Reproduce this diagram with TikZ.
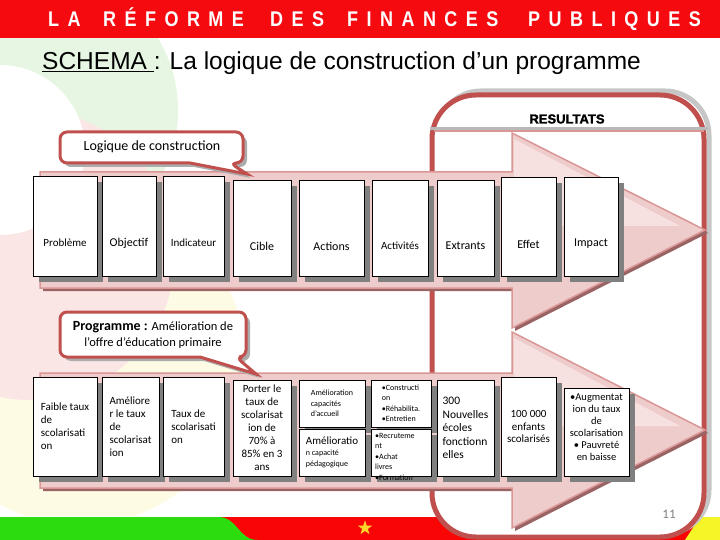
\documentclass[tikz,border=0pt]{standalone}
\usepackage{fontspec}
\usepackage{graphicx}
\setmainfont{Carlito}
\newfontfamily\arialfont{Liberation Sans}
\usetikzlibrary{shapes.geometric,shadows}
\definecolor{hdrred}{RGB}{245,10,15}
\definecolor{framered}{RGB}{192,80,77}
\definecolor{bandline}{RGB}{217,150,148}
\definecolor{bandfill}{RGB}{238,204,204}
\definecolor{bandlight}{RGB}{246,224,224}
\definecolor{bandshadow}{RGB}{155,100,100}
\definecolor{boxshadow}{RGB}{128,128,128}
\definecolor{flaggreen}{RGB}{45,220,15}
\definecolor{flagred}{RGB}{250,5,5}
\definecolor{flagyellow}{RGB}{245,245,40}
\definecolor{stargold}{RGB}{255,215,40}
\definecolor{bggreen}{RGB}{230,246,226}
\definecolor{bgpink}{RGB}{251,230,230}
\definecolor{bgyellow}{RGB}{253,251,228}

\tikzset{
  cell/.style={draw=black, line width=0.9, fill=white, inner sep=1,
    drop shadow={shadow xshift=6pt, shadow yshift=-6pt, fill=boxshadow, opacity=1}},
  lbl/.style={inner sep=0},
  bubble/.style={draw=framered, line width=3, fill=white, rounded corners=7,
    drop shadow={shadow xshift=4pt, shadow yshift=-4pt, fill=gray!65, opacity=1}},
  hdr/.style={anchor=base west, inner sep=0, text=white,
    font=\arialfont\bfseries\fontsize{18}{18}\selectfont\addfontfeatures{LetterSpace=47}},
}

\begin{document}
\begin{tikzpicture}[x=1pt,y=-1pt]
  \useasboundingbox (0,0) rectangle (720,540);
  % faint logo in the background
  \begin{scope}
    \clip (0,38) rectangle (330,515);
    \fill[bgyellow] (80,360) circle (165);
    \fill[bggreen] (40,110) circle (138);
    \fill[bgpink] (30,255) circle (145);
    \fill[white] (0,150) circle (85);
  \end{scope}
  % flag bar at the bottom
  \fill[flagred] (200,517) rectangle (720,540);
  \fill[flaggreen] (0,517) -- (218,517) .. controls (238,517) and (238,540) .. (258,540) -- (0,540) -- cycle;
  \fill[flagyellow] (700,517) -- (720,517) -- (720,540) -- (685,540) -- cycle;
  \node[star, star points=5, star point ratio=2.5, fill=stargold, inner sep=0, minimum size=15] (star) at (365,528) {};
  % header
  \fill[hdrred] (0,0) rectangle (720,38);
  \foreach \w/\x [count=\i] in {LA/48, RÉFORME/103, DES/270, FINANCES/347, PUBLIQUES/528}
    \node[hdr] (hdr\i) at (\x,27) {\scalebox{1}[1.18]{\w}};
  \node[anchor=base west, inner sep=0, font=\arialfont\fontsize{24.5}{26}\selectfont] (title) at (42,70)
    {\underline{SCHEMA }: La logique de construction d’un programme};
  % resultats frame
  \draw[line width=5, gray!45, rounded corners=44] (437,91) rectangle (709,534);
  \draw[line width=5, framered, fill=white, rounded corners=44] (432,95) rectangle (704,537);
  \draw[gray!55, line width=3] (430,129) -- (708,129);
  \draw[bandline, line width=1.5] (434,131) -- (704,131);
  \node[font=\arialfont\bfseries\fontsize{13}{13}\selectfont\addfontfeatures{FakeBold=1.5}] (res) at (567,119) {RESULTATS};
  % the two arrows
  \foreach \bt/\bb/\ht/\hb/\tp in {172/288/133/328/230, 373/488/332/528/430}{
    \fill[bandshadow, shift={(3,3)}] (40,\bt) -- (512,\bt) -- (512,\ht) -- (705,\tp) -- (512,\hb) -- (512,\bb) -- (40,\bb) -- cycle;
    \filldraw[fill=bandfill, draw=bandline, line width=1.5]
      (40,\bt) -- (512,\bt) -- (512,\ht) -- (705,\tp) -- (512,\hb) -- (512,\bb) -- (40,\bb) -- cycle;
    \fill[bandlight] (514,{\ht+6}) -- (680,{\tp-4}) -- (514,{\tp-4}) -- cycle;
  }
  % callouts
  \draw[bubble] (60,132) -- (243,132) -- (243,163) -- (230,163) [sharp corners] -- (247,174) -- (190,163) [rounded corners=7] -- (60,163) -- cycle;
  \node[font=\fontsize{14}{16}\selectfont] (lgc) at (152,147) {Logique de construction};
  \draw[bubble] (60,312) -- (246,312) -- (246,357) -- (236,357) [sharp corners] -- (256,374) -- (200,357) [rounded corners=7] -- (60,357) -- cycle;
  \node[align=center, font=\fontsize{12.5}{16}\selectfont] (prg) at (153,335)
    {{\fontsize{14}{16}\selectfont\bfseries Programme :} Amélioration de\\l’offre d’éducation primaire};
  % logic row
  \foreach \nm/\xa/\xb/\ya/\ty/\fs/\txt in {prob/33/97/176/243/11/Problème, obj/102/156/176/243/12/Objectif,
      ind/163/224/176/243/11/Indicateur, cib/233/291/180/246/12/Cible, act/299/364/180/246/12/Actions,
      acv/372/428/180/246/11/Activités, ext/437/494/180/246/12/Extrants, eff/501/556/177/244/12/Effet,
      imp/564/618/177/244/12/Impact}{
    \node[cell, minimum width={(\xb-\xa)*1pt}, minimum height={(276-\ya)*1pt}] (\nm) at ({(\xa+\xb)/2},{(\ya+276)/2}) {};
    \node[lbl, font=\fontsize{\fs}{\fs}\selectfont] (\nm-t) at ({(\xa+\xb)/2},\ty) {\txt};
  }
  % programme row
  \node[cell, align=left, font=\fontsize{11}{13}\selectfont, minimum width=64, minimum height=99] (fai) at (65,426.5)
    {Faible taux\\de\\scolarisati\\on};
  \node[cell, align=left, font=\fontsize{11}{13}\selectfont, minimum width=57, minimum height=99] (ame) at (130.5,426.5)
    {Améliore\\r le taux\\de\\scolarisat\\ion};
  \node[cell, align=left, font=\fontsize{11}{13}\selectfont, minimum width=61, minimum height=99] (tau) at (193.5,426.5)
    {Taux de\\scolarisati\\on};
  \node[cell, align=center, font=\fontsize{11}{13}\selectfont, minimum width=58, minimum height=96] (por) at (262,428)
    {Porter le\\taux de\\scolarisat\\ion de\\70\% à\\85\% en 3\\ans};
  \node[cell, align=left, font=\fontsize{8}{10.5}\selectfont, minimum width=66, minimum height=47] (acc) at (332,403.5)
    {Amélioration\\capacités\\d’accueil};
  \node[cell, align=left, font=\fontsize{8}{11}\selectfont, minimum width=66, minimum height=47] (ped) at (332,452.5)
    {{\fontsize{11}{12}\selectfont Amélioratio}\\n capacité\\pédagogique};
  \node[cell, align=left, font=\fontsize{8}{10.5}\selectfont, minimum width=60, minimum height=47] (con) at (401,403.5)
    {•Constructi\\on\\•Réhabilita.\\•Entretien};
  \node[cell, minimum width=60, minimum height=47] (rec) at (401,452.5) {};
  \node[lbl, anchor=north west, align=left, font=\fontsize{8}{10.5}\selectfont] (rec-t) at (375,433)
    {•Recruteme\\nt\\•Achat\\livres\\•Formation};
  \node[cell, align=left, font=\fontsize{11.5}{13.5}\selectfont, minimum width=57, minimum height=96] (eco) at (465.5,428)
    {300\\Nouvelles\\écoles\\fonctionn\\elles};
  \node[cell, align=center, font=\fontsize{11}{12.5}\selectfont, minimum width=55, minimum height=99] (enf) at (528.5,426.5)
    {100 000\\enfants\\scolarisés};
  \node[cell, minimum width=65, minimum height=88] (aug) at (596.5,432) {};
  \node[lbl, align=center, font=\fontsize{10.5}{12}\selectfont] (aug-t) at (596.5,427)
    {•Augmentat\\ion du taux\\de\\scolarisation\\• Pauvreté\\en baisse};
  \node[text=gray, font=\fontsize{13}{13}\selectfont] (pg) at (669,514) {11};
\end{tikzpicture}
\end{document}
